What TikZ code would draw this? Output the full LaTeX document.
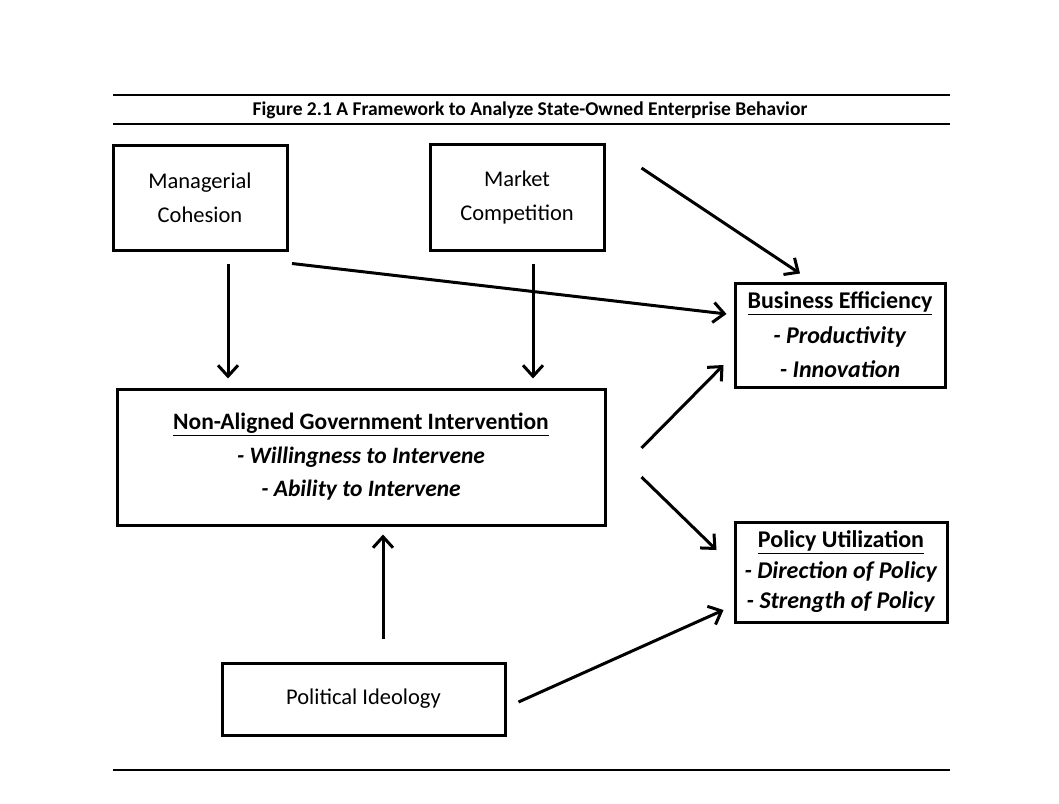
\documentclass[tikz,border=0pt]{standalone}
\usepackage{fontspec}
\setmainfont{Carlito}
\usetikzlibrary{arrows.meta,calc}
\newcommand{\itemtxt}[1]{\textbf{\textit{#1}}}
\begin{document}
\begin{tikzpicture}[x=1pt,y=-1pt,
  box/.style={draw, line width=3pt, inner sep=0pt, align=center, font=\fontsize{22.5}{34}\selectfont},
  arr/.style={line width=3pt, -{Straight Barb[length=11pt,width=20pt,line width=3pt]}},
  rule/.style={line width=1.5pt}]
\useasboundingbox (0,0) rectangle (1059,803);
\fill[white] (0,0) rectangle (1059,803);
% title and rules
\draw[rule] (113,95) -- (950,95);
\node[font=\bfseries\fontsize{19.5}{22}\selectfont] (title) at (530,110) {Figure 2.1 A Framework to Analyze State-Owned Enterprise Behavior};
\draw[rule] (113,124) -- (950,124);
\draw[rule] (113,770) -- (950,770);
% boxes
\node[box, minimum width=174pt, minimum height=105pt] (mc) at (200,197.5) {Managerial\\Cohesion};
\node[box, minimum width=174pt, minimum height=106pt] (mk) at (517,197) {Market\\Competition};
\node[box, minimum width=210pt, minimum height=104pt, font=\fontsize{24}{34.5}\selectfont] (be) at (840,335) {\raisebox{0pt}[0pt][0pt]{}\textbf{\underline{Business Efficiency}}\\\itemtxt{- Productivity}\\\itemtxt{- Innovation}};
\node[box, minimum width=212pt, minimum height=100pt, font=\fontsize{24}{30.5}\selectfont] (pu) at (841,572) {\textbf{\underline{Policy Utilization}}\\\itemtxt{- Direction of Policy}\\\itemtxt{- Strength of Policy}};
\node[box, minimum width=488pt, minimum height=136pt, font=\fontsize{23.5}{33.5}\selectfont] (ngi) at (361,457) {\textbf{\underline{Non-Aligned Government Intervention}}\\\itemtxt{- Willingness to Intervene}\\\itemtxt{- Ability to Intervene}};
\node[box, minimum width=283pt, minimum height=72pt] (pi) at (363.5,699) {Political Ideology};
% connectors
\draw[arr] ($(mc.south)+(28,12)$) -- ($(ngi.north)+(-133,-9)$);
\draw[arr] ($(mk.south)+(16,12)$) -- ($(ngi.north)+(172,-9)$);
\draw[arr] ($(mc.south)+(92,12)$) -- ($(be.west)+(-7,-21)$);
\draw[arr] ($(mk.east)+(36,-29)$) -- ($(be.north)+(-40,-8)$);
\draw[arr] ($(ngi.east)+(35,-9)$) -- ($(be.west)+(-10,30)$);
\draw[arr] ($(ngi.east)+(35,20)$) -- ($(pu.west)+(-17,-22)$);
\draw[arr] ($(pi.north)+(19.5,-23)$) -- ($(ngi.south)+(22,8)$);
\draw[arr] ($(pi.east)+(12,3)$) -- ($(pu.west)+(-10,38)$);
\end{tikzpicture}
\end{document}
